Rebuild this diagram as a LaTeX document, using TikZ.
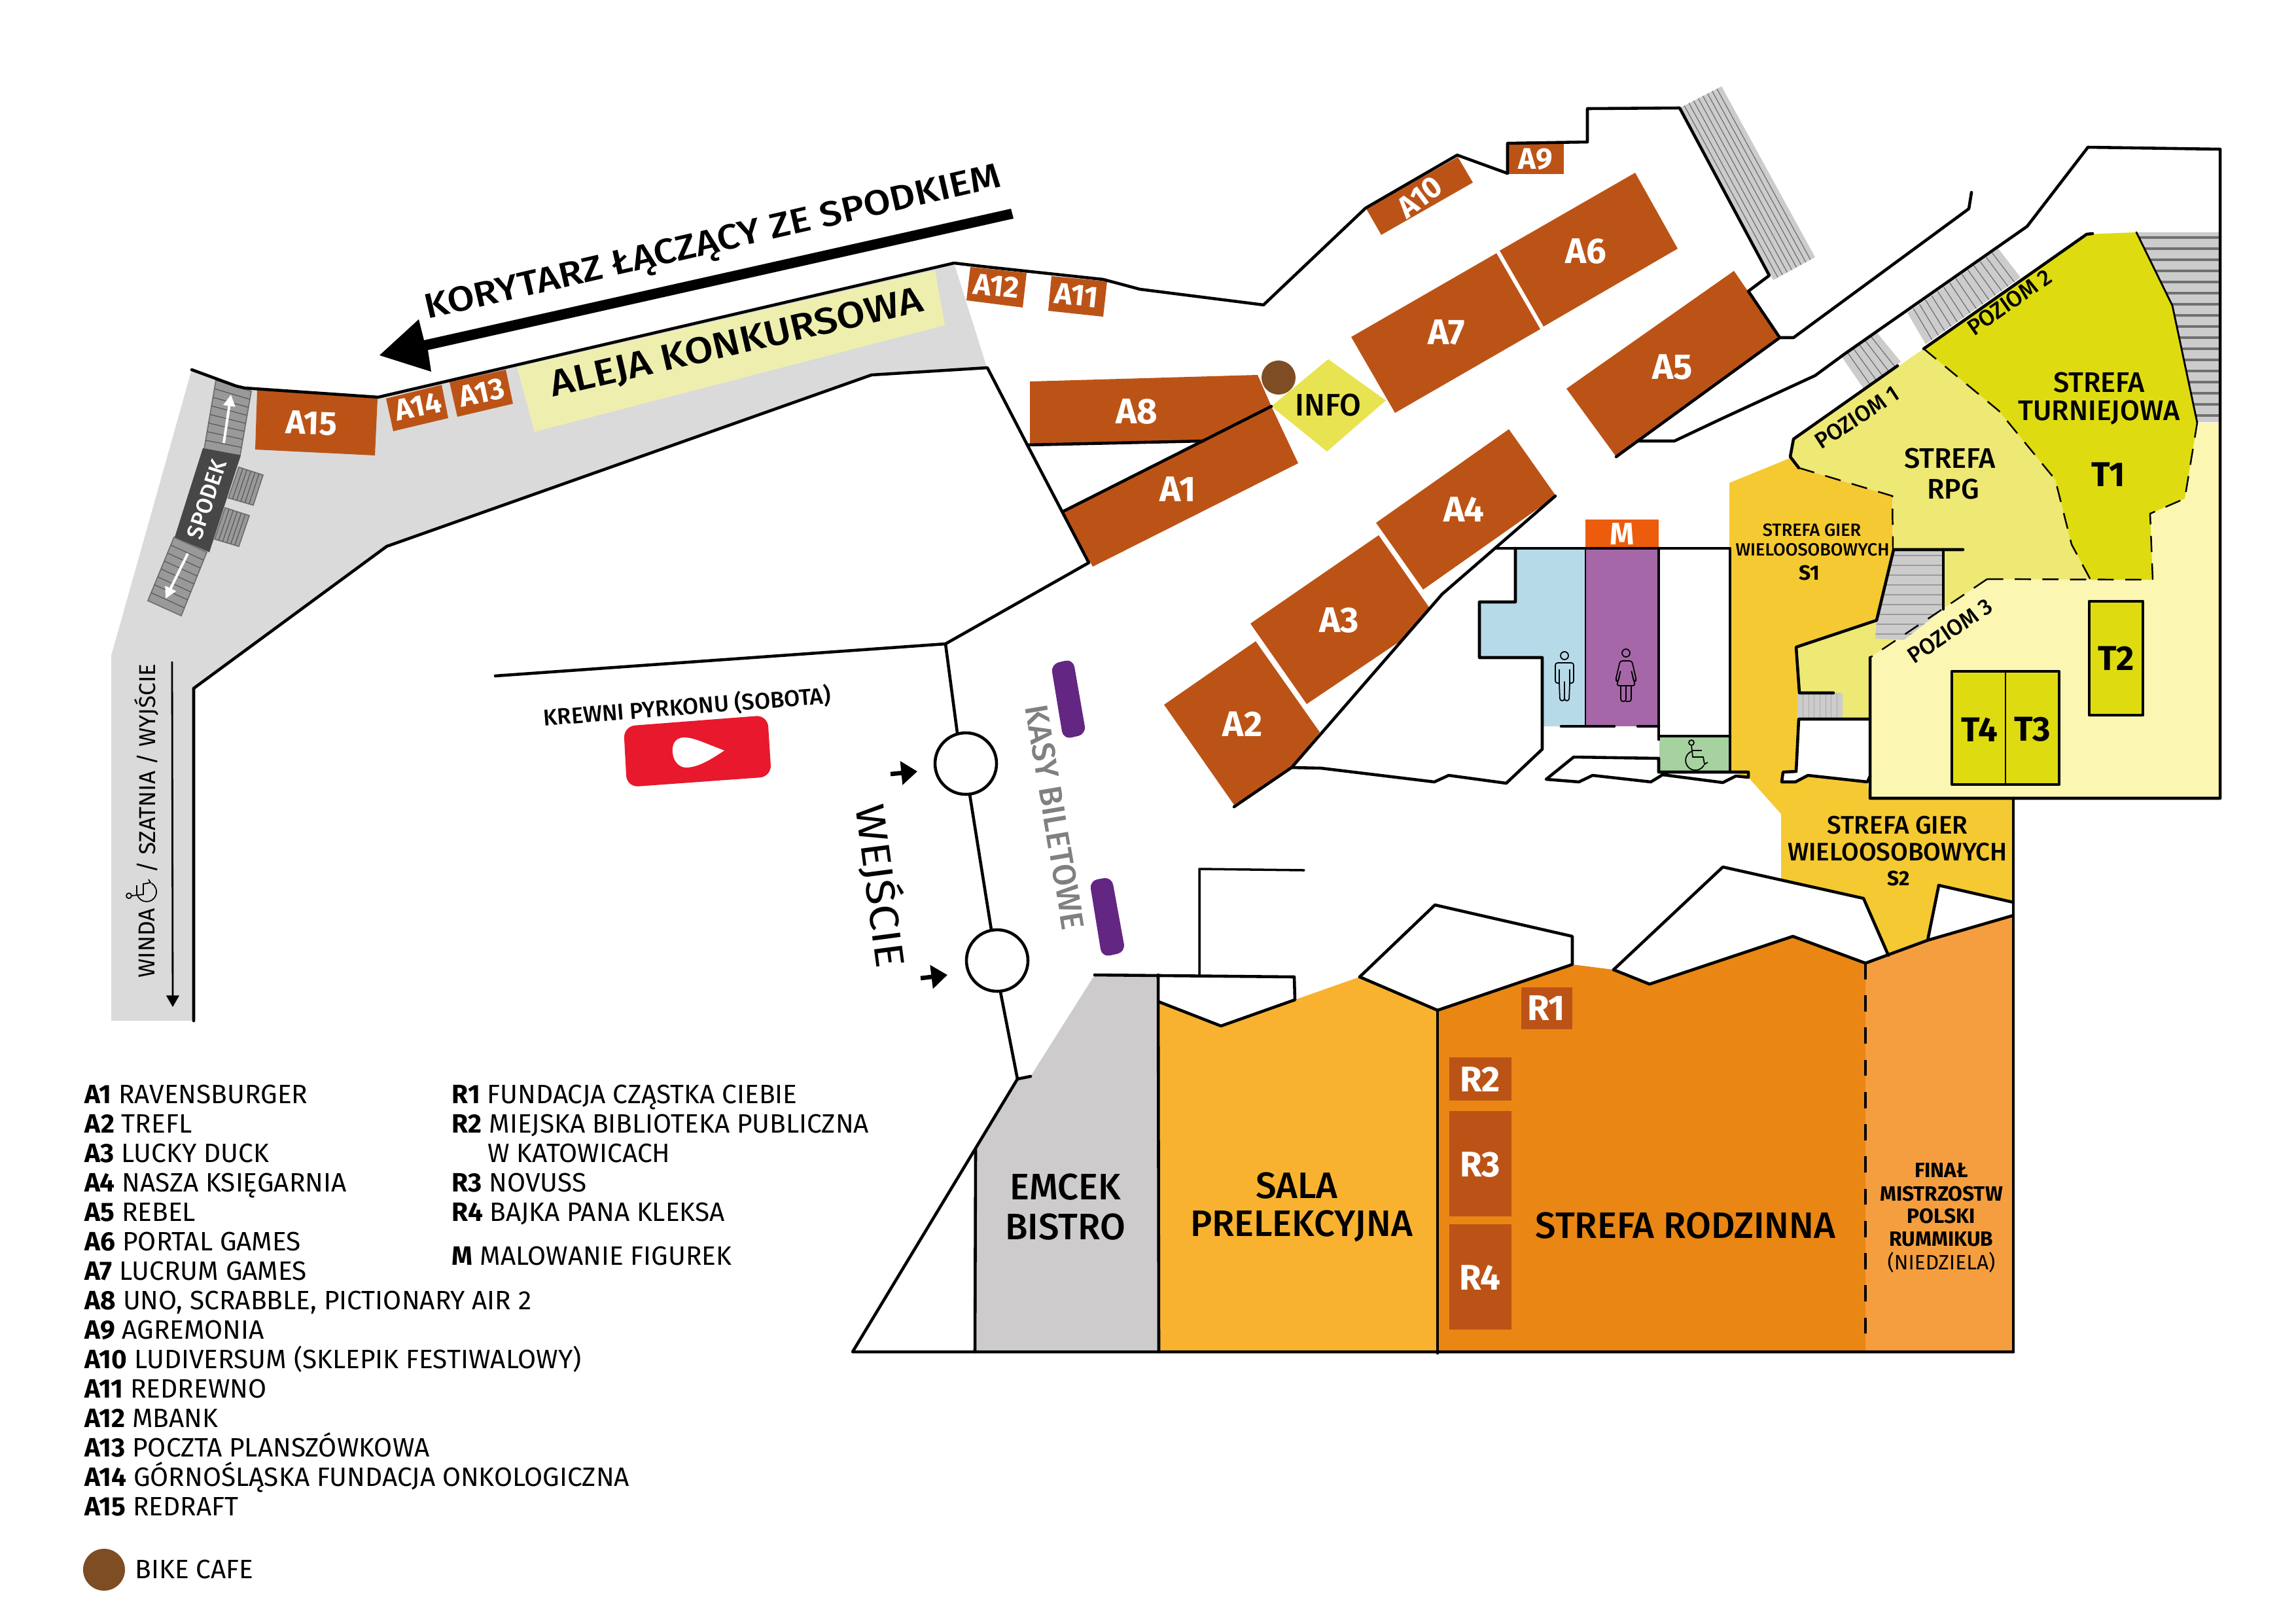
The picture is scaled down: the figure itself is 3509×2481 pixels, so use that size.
\documentclass[tikz,border=0pt]{standalone}
\usepackage{fontspec}
\setmainfont{Fira Sans}
\newfontfamily\medf{Fira Sans Medium}
\newfontfamily\widef[FakeStretch=1.12]{Fira Sans Medium}
\newfontfamily\widereg[FakeStretch=1.12]{Fira Sans}
\usetikzlibrary{calc,arrows.meta}
\definecolor{booth}{HTML}{BC5316}
\definecolor{corr}{HTML}{DADADA}
\definecolor{aleja}{HTML}{EEEFAF}
\definecolor{tdark}{HTML}{DEDC10}
\definecolor{rpg}{HTML}{EEE874}
\definecolor{poz}{HTML}{FCF6B3}
\definecolor{gier}{HTML}{F5C932}
\definecolor{sala}{HTML}{F8B230}
\definecolor{rodz}{HTML}{EA8613}
\definecolor{rumm}{HTML}{F59E3F}
\definecolor{bistro}{HTML}{CDCBCB}
\definecolor{blue1}{HTML}{B7DAE9}
\definecolor{purp}{HTML}{A567A8}
\definecolor{morange}{HTML}{EC5C0C}
\definecolor{greenw}{HTML}{A6D2A0}
\definecolor{kasa}{HTML}{632683}
\definecolor{bike}{HTML}{7F4D24}
\definecolor{infoy}{HTML}{E8E350}
\definecolor{redy}{HTML}{E8192C}
\definecolor{stairg}{HTML}{CCCCCC}
\definecolor{stairl}{HTML}{707070}
\newcommand\fz[1]{\fontsize{#1}{#1}\selectfont}
% interpolated lines between two edges: A,B and D,C, n lines
\newcommand\tread[6][stairl]{%
  \foreach \i in {1,...,#6}{%
    \pgfmathsetmacro\tt{\i/(#6+1)}%
    \draw[#1,line width=.35pt] ($#2!\tt!#3$) -- ($#5!\tt!#4$);}}
\newcommand\wheelicon[3]{%
  \begin{scope}[shift={(#1,#2)},rotate=#3,line width=.5pt]
    \draw (-5,-18) circle[radius=4];
    \draw (-4,-5) arc[start angle=-110,end angle=-330,radius=15];
    \draw (-5,-14) -- (-3,4) -- (13,4) -- (15,15) -- (20,12);
    \draw (-3,-6) -- (11,-6);
  \end{scope}}
\tikzset{
  wall/.style={line width=1.3pt,line join=round,line cap=round},
  thin wall/.style={line width=.8pt,line join=round,line cap=round},
  dash wall/.style={line width=.7pt,dash pattern=on 7pt off 5pt},
  lab/.style={inner sep=0pt,align=center},
  boothlab/.style={lab,text=white,font=\fz{15.5}\bfseries},
  smallboothlab/.style={lab,text=white,font=\fz{13}\bfseries},
  zonelab/.style={lab,text=black,font=\fz{16}\medf},
  legend/.style={inner sep=0pt,anchor=base west,font=\fz{11.55}},
  icon/.style={line width=.5pt,rounded corners=1pt,line join=round},
  whitearrow/.style={draw=white,line width=1.1pt,-{Triangle[length=5pt,width=5pt,fill=white]}},
}
\begin{document}
\begin{tikzpicture}[x=0.01cm,y=-0.01cm]
\useasboundingbox (0,0) rectangle (3509,2481);
\fill[white] (0,0) rectangle (3509,2481);

% corridor
\fill[corr] (293,565)--(361,590)--(374,593)--(578,607)--(1458,402)--(1508,561)--(1332,573)--(591,835)--(296,1052)--(296,1560)--(170,1560)--(170,1002)--cycle;
\fill[aleja] (790,561)--(1429,413)--(1444,497)--(817,660)--cycle;

% zones
\fill[bistro] (1673,1490)--(1770,1490)--(1771,2065)--(1490,2065)--(1491,1757)--(1555,1649)--(1575,1645)--cycle;
\fill[sala] (1771,1531)--(1866,1568)--(1979,1528)--(2078,1493)--(2197,1544)--(2197,2065)--(1771,2065)--cycle;
\fill[rodz] (2197,1544)--(2403,1474)--(2466,1482)--(2521,1504)--(2740,1431)--(2851,1472)--(2851,2065)--(2197,2065)--cycle;
\fill[rumm] (2851,1472)--(2886,1460)--(2946,1437)--(3077,1399)--(3077,2065)--(2851,2065)--cycle;
\fill[gier] (2643,738)--(2736,700)--(2749,715)--(2892,758)--(2893,840)--(2868,948)--(2745,989)--(2750,1059)--(2749,1099)--(2745,1179)--(2725,1180)--(2723,1195)--(2744,1195)--(2763,1185)--(2854,1195)--(2858,1220)--(3077,1222)--(3077,1379)--(2963,1353)--(2946,1437)--(2886,1460)--(2848,1373)--(2722,1343)--(2722,1244)--(2672,1188)--(2644,1179)--cycle;
\fill[rpg] (2736,698)--(2741,671)--(2940,533)--(3055,628)--(3141,733)--(3166,832)--(3195,886)--(3042,886)--(2858,1005)--(2858,1099)--(2746,1099)--(2750,1059)--(2745,989)--(2868,948)--(2894,841)--(2892,758)--(2749,715)--cycle;
\fill[poz] (2858,1005)--(3037,885)--(3290,886)--(3286,785)--(3339,762)--(3358,646)--(3393,646)--(3393,1220)--(2858,1220)--cycle;
\fill[tdark] (2940,533)--(3189,358)--(3265,355)--(3320,467)--(3358,646)--(3339,762)--(3286,785)--(3290,886)--(3195,886)--(3166,832)--(3141,733)--(3055,628)--cycle;
\fill[blue1] (2317,839)--(2422,839)--(2422,1110)--(2358,1110)--(2358,1004)--(2261,1004)--(2261,920)--(2317,920)--cycle;
\fill[purp] (2423,839) rectangle (2535,1110);
\fill[morange] (2423,794) rectangle (2535,838);
\fill[greenw] (2536,1126) rectangle (2643,1179);

% stairs
\fill[stairg] (2567,165)--(2631,132)--(2774,393)--(2710,428)--cycle;
\tread{(2567,165)}{(2631,132)}{(2774,393)}{(2710,428)}{8}
\fill[stairg] (2814,544)--(2869,509)--(2905,553)--(2848,594)--cycle;
\tread{(2814,544)}{(2869,509)}{(2905,553)}{(2848,594)}{5}
\fill[stairg] (2915,478)--(3054,380)--(3088,424)--(2943,526)--cycle;
\tread{(2915,478)}{(3054,380)}{(3088,424)}{(2943,526)}{14}
\fill[stairg] (3265,355)--(3393,355)--(3393,645)--(3358,645)--(3320,467)--cycle;
\begin{scope}
  \clip (3265,355)--(3393,355)--(3393,645)--(3358,645)--(3320,467)--cycle;
  \foreach \k in {0,...,16}{\draw[stairl,line width=1pt] (3260,363+17*\k) -- (3400,363+17*\k);}
\end{scope}
\fill[stairg] (2894,841)--(2970,841)--(2970,931)--(2910,978)--(2866,976)--(2868,948)--cycle;
\begin{scope}
  \clip (2894,841)--(2970,841)--(2970,931)--(2910,978)--(2866,976)--(2868,948)--cycle;
  \foreach \k in {0,...,8}{\draw[stairl!70,line width=.35pt] (2850,849+15*\k) -- (2980,849+15*\k);}
\end{scope}
\fill[stairg] (2747,1059) rectangle (2816,1099);
\foreach \k in {1,...,7}{\draw[stairl!60,line width=.3pt] (2747+8.6*\k,1059) -- (2747+8.6*\k,1099);}

% Spodek stairs
\filldraw[fill=black!40,draw=stairl,line width=.5pt] (330,581)--(384,598)--(367,696)--(312,686)--cycle;
\tread[black!65]{(330,581)}{(312,686)}{(367,696)}{(384,598)}{7}
\filldraw[fill=black!40,draw=stairl,line width=.5pt] (266,821)--(316,844)--(277,941)--(226,918)--cycle;
\tread[black!65]{(266,821)}{(226,918)}{(277,941)}{(316,844)}{7}
\filldraw[fill=black!40,draw=stairl,line width=.5pt] (365,714)--(402,726)--(387,772)--(349,761)--cycle;
\tread[black!65]{(365,714)}{(402,726)}{(387,772)}{(349,761)}{5}
\filldraw[fill=black!40,draw=stairl,line width=.5pt] (344,776)--(381,788)--(365,835)--(328,824)--cycle;
\tread[black!65]{(344,776)}{(381,788)}{(365,835)}{(328,824)}{5}
\fill[black!72] (310,685)--(368,696)--(320,844)--(267,821)--cycle;
\draw[whitearrow] (342,677) -- (353,603);
\draw[whitearrow] (287,846) -- (253,915);
\node[lab,text=white,font=\fz{9.8}\medf,rotate=72] (spodek) at (316,763) {SPODEK};

% booths
\fill[booth] (2305,220)--(2390,220)--(2390,266)--(2305,266)--cycle;
\fill[booth] (2228,240)--(2251,279)--(2111,359)--(2088,319)--cycle;
\fill[booth] (1483,408)--(1569,417)--(1563,470)--(1477,459)--cycle;
\fill[booth] (1607,422)--(1692,430)--(1686,484)--(1602,475)--cycle;
\fill[booth] (2499,264)--(2564,380)--(2359,499)--(2292,383)--cycle;
\fill[booth] (2287,387)--(2354,503)--(2132,631)--(2065,515)--cycle;
\fill[booth] (2650,414)--(2720,516)--(2470,698)--(2394,594)--cycle;
\fill[booth] (1574,583)--(1922,573)--(1943,621)--(1839,674)--(1574,679)--cycle;
\fill[booth] (1943,621)--(1984,708)--(1670,866)--(1624,782)--cycle;
\fill[booth] (2306,656)--(2378,758)--(2175,901)--(2103,799)--cycle;
\fill[booth] (2107,818)--(2184,928)--(2144,977)--(1997,1076)--(1911,953)--cycle;
\fill[booth] (1919,980)--(2017,1119)--(1974,1173)--(1886,1230)--(1779,1077)--cycle;
\fill[booth] (393,596)--(577,609)--(573,696)--(390,687)--cycle;
\fill[booth] (590,609)--(675,588)--(685,639)--(601,659)--cycle;
\fill[booth] (687,584)--(773,565)--(784,617)--(699,637)--cycle;
\fill[booth] (2325,1509) rectangle (2403,1573);
\fill[booth] (2215,1616) rectangle (2310,1682);
\fill[booth] (2215,1698) rectangle (2310,1859);
\fill[booth] (2215,1871) rectangle (2310,2032);

% info
\fill[infoy] (2030,549)--(2118,612)--(2028,690)--(1943,621)--cycle;
\fill[bike] (1954,577) circle[radius=26];

% T boxes
\filldraw[fill=tdark,draw=black,wall] (3193,919) rectangle (3275,1093);
\filldraw[fill=tdark,draw=black,wall] (2983,1026) rectangle (3147,1199);
\draw[line width=.4pt] (3065,1026) -- (3065,1199);

% walls
\draw[wall] (293,565)--(361,590)--(374,593)--(578,607)--(1458,402)--(1500,407)--(1686,427)--(1742,442)--(1931,466)--(2087,318)--(2227,237)--(2304,265)--(2304,219)--(2426,217)--(2426,166)--(2567,165)--(2704,421)--(2672,445)--(2720,516)--(2741,516)--(3009,319)--(3013,294);
\draw[wall] (296,1560)--(296,1052)--(591,835)--(1332,573)--(1509,562)--(1570,680)--(1664,860)--(1445,984)--(757,1033);
\draw[wall] (1445,984)--(1463,1120);
\draw[wall] (1482,1214)--(1515,1421);
\draw[wall] (1529,1516)--(1555,1649)--(1575,1645);
\draw[wall] (1555,1649)--(1303,2066)--(3077,2066);
\draw[wall] (1570,680)--(1839,674);
\draw[wall] (1624,782)--(1943,621);
\draw[wall] (2720,516)--(2470,698);
\draw[wall] (2503,674)--(2559,674)--(2631,640)--(2774,574)--(2819,541)--(3098,346)--(3191,225)--(3393,228)--(3393,1220)--(2858,1220)--(2858,1005);
\draw[wall] (3077,1220)--(3077,2066);
\draw[wall] (2900,559)--(2741,671)--(2736,698)--(2749,715);
\draw[wall] (2940,533)--(3189,358)--(3198,357);
\draw[thin wall] (3265,355)--(3320,467)--(3358,646);
\draw[wall] (2377,758)--(2204,908)--(1974,1173)--(1886,1233);
\draw[wall] (1974,1173)--(2019,1174)--(2192,1195)--(2214,1185)--(2302,1197)--(2357,1145)--(2357,1005)--(2261,1005)--(2261,920)--(2316,920)--(2316,838);
\draw[wall] (2286,838)--(2644,838)--(2644,1179);
\draw[thin wall] (2423,838)--(2423,1110);
\draw[wall] (2535,838)--(2535,1130);
\draw[wall] (2535,1125)--(2644,1125);
\draw[wall] (2535,1180)--(2672,1180)--(2672,1188)--(2653,1186)--(2633,1196)--(2541,1184)--(2523,1195)--(2434,1185)--(2413,1195)--(2363,1191)--(2405,1157)--(2535,1159)--cycle;
\draw[wall] (2386,1110)--(2467,1110);
\draw[wall] (2503,1110)--(2535,1110);
\draw[wall] (3000,840)--(2894,840)--(2868,948)--(2745,989)--(2750,1059)--(2802,1059);
\draw[wall] (2970,840)--(2970,931);
\draw[wall] (2856,1099)--(2749,1099)--(2745,1179)--(2725,1180)--(2723,1195)--(2744,1195)--(2763,1185)--(2854,1195)--(2858,1186);
\draw[wall] (1673,1490)--(1978,1493)--(1979,1528)--(1866,1568)--(1771,1531);
\draw[wall] (1770,1490)--(1771,2066);
\draw[wall] (1491,1757)--(1490,2066);
\draw[thin wall,line width=1pt] (1833,1491)--(1833,1328)--(1993,1330);
\draw[wall] (2078,1493)--(2193,1383)--(2403,1431)--(2403,1474)--(2197,1544);
\draw[wall] (2078,1493)--(2197,1544);
\draw[wall] (2197,1544)--(2197,2068);
\draw[wall] (2466,1482)--(2633,1325)--(2848,1373)--(2886,1460);
\draw[wall] (2466,1482)--(2521,1504)--(2740,1431)--(2851,1472)--(2946,1437)--(3077,1399);
\draw[wall] (2963,1353)--(2946,1437);
\draw[wall] (2963,1353)--(3077,1379);
\draw[line width=1.1pt,dash pattern=on 7pt off 7pt] (2851,1472)--(2851,2060);

% dashed zone boundaries
\draw[dash wall] (2749,715)--(2892,758)--(2893,840);
\draw[dash wall] (2940,533)--(3055,628)--(3141,733)--(3166,832)--(3195,886);
\draw[dash wall] (3037,885)--(3290,886)--(3286,785)--(3339,762)--(3358,646);
\draw[dash wall] (3037,885)--(2858,1005);

% doors
\draw[wall] (1476,1167) circle[radius=47];
\draw[wall] (1524,1468) circle[radius=47];

% ticket desks
\fill[kasa,rounded corners=3.5pt] (1606,1015)--(1640,1007)--(1660,1122)--(1625,1130)--cycle;
\fill[kasa,rounded corners=3.5pt] (1665,1346)--(1699,1340)--(1720,1455)--(1684,1463)--cycle;

% entrance arrows
\draw[line width=1.9pt,-{Triangle[length=7pt,width=10pt]}] (1361,1183) -- (1402,1179);
\draw[line width=1.9pt,-{Triangle[length=7pt,width=10pt]}] (1407,1495) -- (1448,1490);

% big arrow
\fill (648,520)--(1545,319)--(1549,334)--(654,535)--(659,568)--(580,543)--(640,488)--cycle;

% corridor arrow
\draw[line width=.8pt,-{Triangle[length=5pt,width=5.5pt]}] (263,1011) -- (264,1539);

% Krewni sign
\fill[redy,rounded corners=5pt] (953,1110)--(1173,1093)--(1179,1187)--(958,1203)--cycle;
\fill[white] (1107,1147) .. controls (1075,1135) and (1060,1127) .. (1045,1127) .. controls (1030,1128) and (1027,1140) .. (1028,1150) .. controls (1029,1165) and (1040,1174) .. (1050,1173) .. controls (1070,1172) and (1090,1158) .. (1107,1147) -- cycle;

% toilets icons
\begin{scope}[shift={(2391,0)}]
  \draw[line width=.5pt] (0,1002) circle[radius=6];
  \draw[icon] (-8,1023)--(-8,1044)--(-7,1071)--(0,1071)--(0,1040)--(0,1071)--(7,1071)--(8,1044)--(8,1023);
  \draw[icon] (-8,1044)--(-14,1044)--(-14,1013)--(14,1013)--(14,1044)--(8,1044);
\end{scope}
\begin{scope}[shift={(2485,0)}]
  \draw[line width=.5pt] (0,998) circle[radius=6];
  \draw[icon] (-9,1010)--(9,1010)--(16,1040)--(12,1042)--(8,1024)--(14,1048)--(-14,1048)--(-8,1024)--(-12,1042)--(-16,1040)--cycle;
  \draw[icon] (-8,1048)--(-8,1072)--(0,1072)--(0,1048);
  \draw[icon] (0,1072)--(8,1072)--(8,1048);
\end{scope}
\wheelicon{2590}{1153}{0}
\wheelicon{215}{1364}{90}

% booth labels
\node[boothlab] (a1) at (1800,748) {A1};
\node[boothlab] (a2) at (1899,1107) {A2};
\node[boothlab] (a3) at (2047,948) {A3};
\node[boothlab] (a4) at (2237,779) {A4};
\node[boothlab] (a5) at (2556,561) {A5};
\node[boothlab] (a6) at (2424,384) {A6};
\node[boothlab] (a7) at (2211,508) {A7};
\node[boothlab] (a8) at (1737,629) {A8};
\node[smallboothlab] (a9) at (2347,243) {A9};
\node[smallboothlab,rotate=37] (a10) at (2170,301) {A10};
\node[smallboothlab,rotate=-6] (a11) at (1645,451) {A11};
\node[smallboothlab,rotate=-6] (a12) at (1523,437) {A12};
\node[smallboothlab,rotate=12] (a13) at (736,600) {A13};
\node[smallboothlab,rotate=12] (a14) at (639,621) {A14};
\node[smallboothlab,rotate=-2,font=\fz{14.5}\bfseries] (a15) at (476,647) {A15};
\node[boothlab,font=\fz{13.5}\bfseries] (mlab) at (2479,816) {M};
\node[boothlab] (r1) at (2363,1541) {R1};
\node[boothlab] (r2) at (2262,1650) {R2};
\node[boothlab] (r3) at (2262,1780) {R3};
\node[boothlab] (r4) at (2262,1953) {R4};
\node[lab,font=\fz{13.5}\medf] (info) at (2030,619) {INFO};

% zone labels
\node[zonelab] (emcek) at (1628,1814) {EMCEK};
\node[zonelab] (bistrol) at (1628,1875) {BISTRO};
\node[zonelab] (salal) at (1982,1812) {SALA};
\node[zonelab] (prel) at (1989,1874) {PRELEKCYJNA};
\node[zonelab] (rodzl) at (2576,1873) {STREFA RODZINNA};
\node[zonelab,font=\fz{12.3}\medf] (turn1) at (3208,585) {STREFA};
\node[zonelab,font=\fz{12.3}\medf] (turn2) at (3208,631) {TURNIEJOWA};
\node[lab,font=\fz{15}\bfseries] (t1) at (3222,725) {T1};
\node[lab,font=\fz{15}\bfseries] (t2) at (3234,1006) {T2};
\node[lab,font=\fz{15}\bfseries] (t4) at (3025,1115) {T4};
\node[lab,font=\fz{15}\bfseries] (t3) at (3106,1115) {T3};
\node[zonelab,font=\fz{12.3}\medf] (rpg1) at (2980,701) {STREFA};
\node[zonelab,font=\fz{12.3}\medf] (rpg2) at (2985,748) {RPG};
\node[lab,font=\fz{7.7}\medf] (s1a) at (2769,810) {STREFA GIER};
\node[lab,font=\fz{7.7}\medf] (s1b) at (2770,840) {WIELOOSOBOWYCH};
\node[lab,font=\fz{9}\bfseries] (s1c) at (2765,876) {S1};
\node[lab,font=\fz{11}\medf] (s2a) at (2900,1261) {STREFA GIER};
\node[lab,font=\fz{11}\medf] (s2b) at (2900,1302) {WIELOOSOBOWYCH};
\node[lab,font=\fz{9}\bfseries] (s2c) at (2902,1343) {S2};
\node[lab,font=\fz{9}\bfseries] (f1) at (2967,1789) {FINAŁ};
\node[lab,font=\fz{9}\bfseries] (f2) at (2967,1824) {MISTRZOSTW};
\node[lab,font=\fz{9}\bfseries] (f3) at (2967,1859) {POLSKI};
\node[lab,font=\fz{9}\bfseries] (f4) at (2967,1894) {RUMMIKUB};
\node[lab,font=\fz{9}] (f5) at (2967,1929) {(NIEDZIELA)};
\node[lab,font=\fz{9.8}\medf,rotate=35] (p2) at (3071,462) {POZIOM 2};
\node[lab,font=\fz{9.8}\medf,rotate=33] (p1) at (2838,638) {POZIOM 1};
\node[lab,font=\fz{9.8}\medf,rotate=34] (p3) at (2980,964) {POZIOM 3};

% corridor labels
\node[lab,font=\fz{15.2}\widef,rotate=13] (kor) at (1090,374) {KORYTARZ ŁĄCZĄCY ZE SPODKIEM};
\node[lab,font=\fz{16}\widef,rotate=13] (alej) at (1126,526) {ALEJA KONKURSOWA};
\node[lab,font=\fz{9.9}\medf,rotate=4.5] (krew) at (1050,1080) {KREWNI PYRKONU (SOBOTA)};
\node[lab,font=\fz{17.7}\widereg,rotate=-82.5] (wej) at (1348,1354) {WEJŚCIE};
\node[lab,font=\fz{14}\medf,text=black!50,rotate=-80.4] (kasy) at (1612,1249) {KASY BILETOWE};
\node[lab,font=\fz{10},rotate=90,anchor=west] (winda) at (224,1495) {WINDA};
\node[lab,font=\fz{10},rotate=90,anchor=west] (szat) at (224,1335) {/ SZATNIA / WYJŚCIE};

% legend
\node[legend] (l1) at (129,1686) {\textbf{A1} RAVENSBURGER};
\node[legend] (l2) at (129,1731) {\textbf{A2} TREFL};
\node[legend] (l3) at (129,1776) {\textbf{A3} LUCKY DUCK};
\node[legend] (l4) at (129,1821) {\textbf{A4} NASZA KSIĘGARNIA};
\node[legend] (l5) at (129,1866) {\textbf{A5} REBEL};
\node[legend] (l6) at (129,1911) {\textbf{A6} PORTAL GAMES};
\node[legend] (l7) at (129,1956) {\textbf{A7} LUCRUM GAMES};
\node[legend] (l8) at (129,2001) {\textbf{A8} UNO, SCRABBLE, PICTIONARY AIR 2};
\node[legend] (l9) at (129,2046) {\textbf{A9} AGREMONIA};
\node[legend] (l10) at (129,2091) {\textbf{A10} LUDIVERSUM (SKLEPIK FESTIWALOWY)};
\node[legend] (l11) at (129,2136) {\textbf{A11} REDREWNO};
\node[legend] (l12) at (129,2181) {\textbf{A12} MBANK};
\node[legend] (l13) at (129,2226) {\textbf{A13} POCZTA PLANSZÓWKOWA};
\node[legend] (l14) at (129,2271) {\textbf{A14} GÓRNOŚLĄSKA FUNDACJA ONKOLOGICZNA};
\node[legend] (l15) at (129,2316) {\textbf{A15} REDRAFT};
\node[legend] (lr1) at (690,1686) {\textbf{R1} FUNDACJA CZĄSTKA CIEBIE};
\node[legend] (lr2) at (690,1731) {\textbf{R2} MIEJSKA BIBLIOTEKA PUBLICZNA};
\node[legend] (lr2b) at (745,1776) {W KATOWICACH};
\node[legend] (lr3) at (690,1821) {\textbf{R3} NOVUSS};
\node[legend] (lr4) at (690,1866) {\textbf{R4} BAJKA PANA KLEKSA};
\node[legend] (lm) at (690,1933) {\textbf{M} MALOWANIE FIGUREK};
\fill[bike] (159,2399) circle[radius=32];
\node[legend] (lbike) at (206,2412) {BIKE CAFE};
\end{tikzpicture}
\end{document}
